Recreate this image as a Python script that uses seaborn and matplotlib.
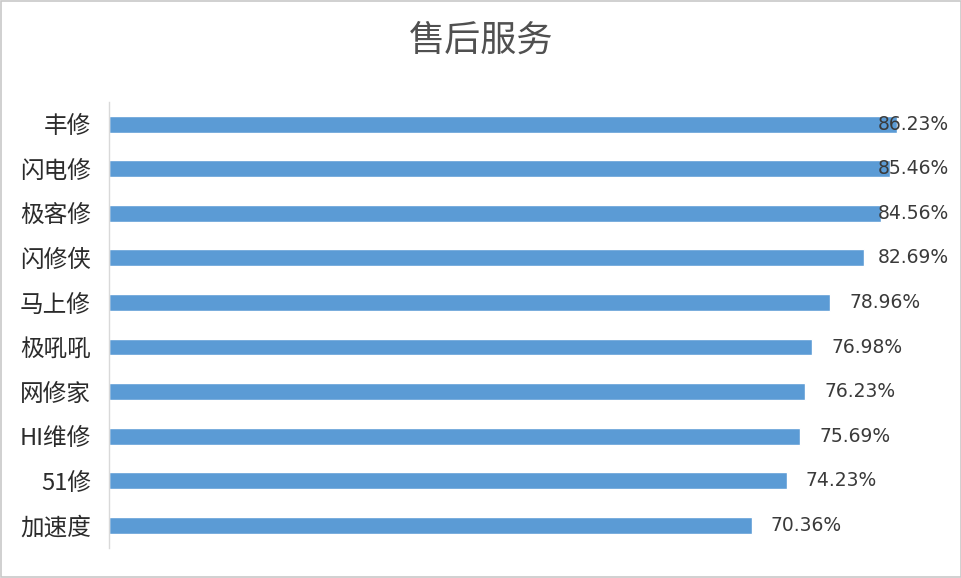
import matplotlib
matplotlib.use("Agg")
import matplotlib.pyplot as plt
import seaborn as sns
import pandas as pd
from matplotlib.patches import Rectangle

categories = ["丰修", "闪电修", "极客修", "闪修侠", "马上修", "极吼吼", "网修家", "HI维修", "51修", "加速度"]
values = [86.23, 85.46, 84.56, 82.69, 78.96, 76.98, 76.23, 75.69, 74.23, 70.36]
title = "售后服务"

sns.set_theme(style="white")
plt.rcParams['font.family'] = ['Noto Sans CJK SC', 'DejaVu Sans']

df = pd.DataFrame({"cat": categories, "val": values})

fig = plt.figure(figsize=(9.62, 5.78), dpi=100)
ax = fig.add_axes([109/962, 1 - 547.5/578, (931-109)/962, 445.5/578])

sns.barplot(data=df, y="cat", x="val", orient="h", color="#5B9BD5",
            saturation=1, width=0.38, ax=ax)

ax.set_xlim(0, 90)
ax.set_xlabel("")
ax.set_ylabel("")
ax.set_xticks([])
for s in ["top", "right", "bottom"]:
    ax.spines[s].set_visible(False)
ax.spines["left"].set_color("#D9D9D9")
ax.spines["left"].set_linewidth(1)
ax.tick_params(axis="y", length=0, pad=13, labelsize=17, labelcolor="#2B2B2B")

# data labels: placed right of bar, clamped so they stay inside the chart area (Excel style)
px_per_unit = (931 - 109) / 90
pad_units = 19 / px_per_unit
max_start = (878 - 109) / px_per_unit
for i, v in enumerate(values):
    ax.text(min(v + pad_units, max_start), i, f"{v:.2f}%", va="center", ha="left",
            fontsize=13.5, color="#3A3A3A", family="DejaVu Sans", clip_on=False)

fig.text(0.5, 1 - 41/578, title, ha="center", va="center", fontsize=26,
         color="#505050")

fig.patches.append(Rectangle((0.001, 0.001), 0.998, 0.998, transform=fig.transFigure,
                             fill=False, edgecolor="#C8C8C8", linewidth=1.2))

fig.savefig("out.png", dpi=100, facecolor="white")
